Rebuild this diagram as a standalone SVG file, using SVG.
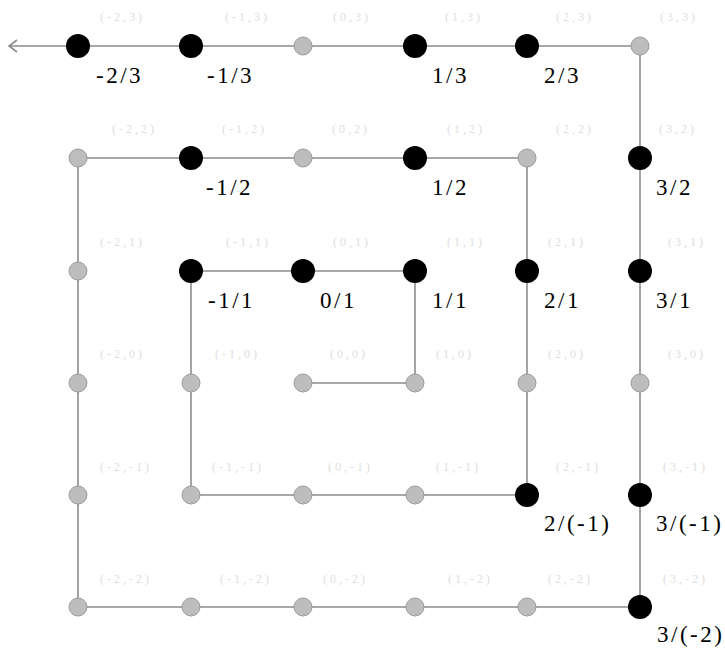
<svg xmlns="http://www.w3.org/2000/svg" width="725" height="648" viewBox="0 0 725 648">
  <style>
    .hit { fill: #000; }
    .skip { fill: #bdbdbd; stroke: #9a9a9a; stroke-width: 1; }
    .edge { fill: none; stroke: #8c8c8c; stroke-width: 1.6; stroke-linejoin: miter; }
    .lbl { font-family: "Liberation Serif", "DejaVu Serif", serif; font-size: 23px; letter-spacing: 2.5px; fill: #000; }
    .coord { font-family: "Liberation Serif", "DejaVu Serif", serif; font-size: 12px; letter-spacing: 3px; fill: #dedede; }
  </style>

  <!-- spiral walk over the integer lattice, leaving to the left -->
  <g id="connectors">
    <polyline class="edge" points="303,383 415,383 415,271 191,271 191,495 527,495 527,158 78,158 78,607 640,607 640,46 9,46"/>
    <polyline class="edge" points="17,40 9,46 17,52"/>
  </g>

  <!-- row y = 3 -->
  <g id="p_m2_3"><circle class="hit" cx="78" cy="46" r="12"/><text class="lbl" x="96" y="83">-2/3</text><text class="coord" x="100" y="21">(-2,3)</text></g>
  <g id="p_m1_3"><circle class="hit" cx="191" cy="46" r="12"/><text class="lbl" x="207" y="83">-1/3</text><text class="coord" x="225" y="21">(-1,3)</text></g>
  <g id="p_0_3"><circle class="skip" cx="303" cy="46" r="9"/><text class="coord" x="333" y="21">(0,3)</text></g>
  <g id="p_1_3"><circle class="hit" cx="415" cy="46" r="12"/><text class="lbl" x="432" y="83">1/3</text><text class="coord" x="445" y="21">(1,3)</text></g>
  <g id="p_2_3"><circle class="hit" cx="527" cy="46" r="12"/><text class="lbl" x="544" y="83">2/3</text><text class="coord" x="556" y="21">(2,3)</text></g>
  <g id="p_3_3"><circle class="skip" cx="640" cy="46" r="9"/><text class="coord" x="660" y="21">(3,3)</text></g>

  <!-- row y = 2 -->
  <g id="p_m2_2"><circle class="skip" cx="78" cy="158" r="9"/><text class="coord" x="112" y="133">(-2,2)</text></g>
  <g id="p_m1_2"><circle class="hit" cx="191" cy="158" r="12"/><text class="lbl" x="206" y="195">-1/2</text><text class="coord" x="222" y="133">(-1,2)</text></g>
  <g id="p_0_2"><circle class="skip" cx="303" cy="158" r="9"/><text class="coord" x="332" y="133">(0,2)</text></g>
  <g id="p_1_2"><circle class="hit" cx="415" cy="158" r="12"/><text class="lbl" x="432" y="195">1/2</text><text class="coord" x="447" y="133">(1,2)</text></g>
  <g id="p_2_2"><circle class="skip" cx="527" cy="158" r="9"/><text class="coord" x="556" y="133">(2,2)</text></g>
  <g id="p_3_2"><circle class="hit" cx="640" cy="158" r="12"/><text class="lbl" x="656" y="195">3/2</text><text class="coord" x="659" y="133">(3,2)</text></g>

  <!-- row y = 1 -->
  <g id="p_m2_1"><circle class="skip" cx="78" cy="271" r="9"/><text class="coord" x="100" y="246">(-2,1)</text></g>
  <g id="p_m1_1"><circle class="hit" cx="191" cy="271" r="12"/><text class="lbl" x="208" y="308">-1/1</text><text class="coord" x="226" y="246">(-1,1)</text></g>
  <g id="p_0_1"><circle class="hit" cx="303" cy="271" r="12"/><text class="lbl" x="320" y="308">0/1</text><text class="coord" x="333" y="246">(0,1)</text></g>
  <g id="p_1_1"><circle class="hit" cx="415" cy="271" r="12"/><text class="lbl" x="432" y="308">1/1</text><text class="coord" x="447" y="246">(1,1)</text></g>
  <g id="p_2_1"><circle class="hit" cx="527" cy="271" r="12"/><text class="lbl" x="544" y="308">2/1</text><text class="coord" x="548" y="246">(2,1)</text></g>
  <g id="p_3_1"><circle class="hit" cx="640" cy="271" r="12"/><text class="lbl" x="656" y="308">3/1</text><text class="coord" x="668" y="246">(3,1)</text></g>

  <!-- row y = 0 -->
  <g id="p_m2_0"><circle class="skip" cx="78" cy="383" r="9"/><text class="coord" x="100" y="358">(-2,0)</text></g>
  <g id="p_m1_0"><circle class="skip" cx="191" cy="383" r="9"/><text class="coord" x="215" y="358">(-1,0)</text></g>
  <g id="p_0_0"><circle class="skip" cx="303" cy="383" r="9"/><text class="coord" x="330" y="358">(0,0)</text></g>
  <g id="p_1_0"><circle class="skip" cx="415" cy="383" r="9"/><text class="coord" x="436" y="358">(1,0)</text></g>
  <g id="p_2_0"><circle class="skip" cx="527" cy="383" r="9"/><text class="coord" x="548" y="358">(2,0)</text></g>
  <g id="p_3_0"><circle class="skip" cx="640" cy="383" r="9"/><text class="coord" x="668" y="358">(3,0)</text></g>

  <!-- row y = -1 -->
  <g id="p_m2_m1"><circle class="skip" cx="78" cy="495" r="9"/><text class="coord" x="100" y="471">(-2,-1)</text></g>
  <g id="p_m1_m1"><circle class="skip" cx="191" cy="495" r="9"/><text class="coord" x="212" y="471">(-1,-1)</text></g>
  <g id="p_0_m1"><circle class="skip" cx="303" cy="495" r="9"/><text class="coord" x="328" y="471">(0,-1)</text></g>
  <g id="p_1_m1"><circle class="skip" cx="415" cy="495" r="9"/><text class="coord" x="436" y="471">(1,-1)</text></g>
  <g id="p_2_m1"><circle class="hit" cx="527" cy="495" r="12"/><text class="lbl" x="544" y="531">2/(-1)</text><text class="coord" x="556" y="471">(2,-1)</text></g>
  <g id="p_3_m1"><circle class="hit" cx="640" cy="495" r="12"/><text class="lbl" x="656" y="531">3/(-1)</text><text class="coord" x="663" y="471">(3,-1)</text></g>

  <!-- row y = -2 -->
  <g id="p_m2_m2"><circle class="skip" cx="78" cy="607" r="9"/><text class="coord" x="100" y="583">(-2,-2)</text></g>
  <g id="p_m1_m2"><circle class="skip" cx="191" cy="607" r="9"/><text class="coord" x="220" y="583">(-1,-2)</text></g>
  <g id="p_0_m2"><circle class="skip" cx="303" cy="607" r="9"/><text class="coord" x="323" y="583">(0,-2)</text></g>
  <g id="p_1_m2"><circle class="skip" cx="415" cy="607" r="9"/><text class="coord" x="448" y="583">(1,-2)</text></g>
  <g id="p_2_m2"><circle class="skip" cx="527" cy="607" r="9"/><text class="coord" x="548" y="583">(2,-2)</text></g>
  <g id="p_3_m2"><circle class="hit" cx="640" cy="607" r="12"/><text class="lbl" x="657" y="642">3/(-2)</text><text class="coord" x="663" y="583">(3,-2)</text></g>
</svg>
